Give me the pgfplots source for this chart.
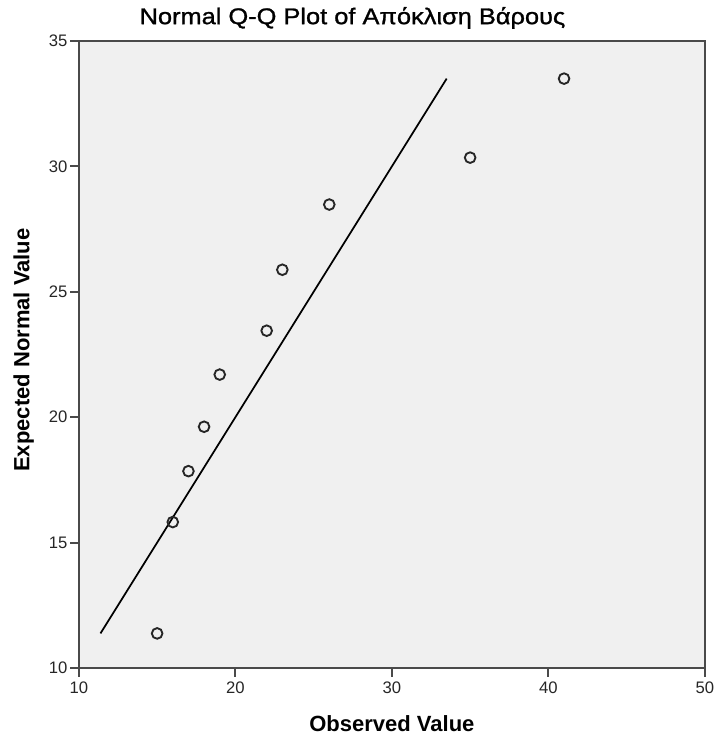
\documentclass[border=0pt]{standalone}
\usepackage{pgfplots}
\pgfplotsset{compat=1.18}
\usepackage{fontspec}
\setmainfont{Liberation Sans}
\newfontfamily\titlefont[FakeStretch=1.12, FakeBold=1.2]{Liberation Sans}
\definecolor{plotbg}{HTML}{F0F0F0}
\definecolor{framec}{HTML}{4A4A4A}
\begin{document}
\begin{tikzpicture}
\begin{axis}[
    scale only axis,
    width=469.5pt, height=470.25pt,
    xmin=10, xmax=50, ymin=10, ymax=35,
    xtick={10,20,30,40,50},
    ytick={10,15,20,25,30,35},
    axis background/.style={fill=plotbg},
    axis line style={framec, line width=1.5pt},
    tick align=outside,
    tick pos=left,
    major tick length=6.5pt,
    tick style={framec, line width=1.4pt},
    ticklabel style={font=\fontsize{12.5}{14}\selectfont, text=black!85},
    yticklabel style={xshift=1.5pt},
    /pgf/number format/assume math mode=true,
    xlabel={\bfseries Observed Value},
    ylabel={\bfseries Expected Normal Value},
    label style={font=\fontsize{16.5}{19}\selectfont},
    xlabel style={at={(axis description cs:0.5,-0.089)}, anchor=center},
    ylabel style={at={(axis description cs:-0.088,0.507)}, anchor=center},
    title={Normal Q-Q Plot of Απόκλιση Βάρους},
    title style={font=\titlefont\fontsize{17}{20}\selectfont, at={(axis description cs:0.437,1.024)}, anchor=center},
    clip=false,
]
\addplot[black, line width=1.3pt] coordinates {(11.38,11.38) (33.5,33.5)};
\addplot[only marks, mark=o, mark size=4pt, mark options={line width=1.4pt, draw=black!85}]
  coordinates {
    (15,11.38) (16,15.82) (17,17.85) (18,19.62) (19,21.70)
    (22,23.45) (23,25.88) (26,28.48) (35,30.35) (41,33.50)
  };
\path (axis description cs:-0.126,-0.110) rectangle (axis description cs:1.0128,1.0654);
\end{axis}
\end{tikzpicture}
\end{document}
